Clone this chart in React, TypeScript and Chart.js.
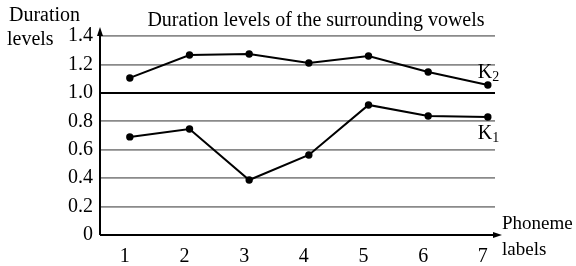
import React, { useEffect, useRef } from "react";
import { Chart, registerables } from "chart.js";

Chart.register(...registerables);

const phonemes = [1, 2, 3, 4, 5, 6, 7];
const k2Values = [1.105, 1.266, 1.273, 1.21, 1.259, 1.147, 1.055];
const k1Values = [0.69, 0.746, 0.387, 0.563, 0.915, 0.837, 0.83];
const yTicks = [0, 0.2, 0.4, 0.6, 0.8, 1.0, 1.2, 1.4];
const titleText = "Duration levels of the surrounding vowels";
const yTitleLines = ["Duration", "levels"];
const xTitleLines = ["Phoneme", "labels"];
const seriesNames = ["K", "K"];
const seriesSubs = ["2", "1"];

const FF = '"Liberation Serif", "Times New Roman", serif';

const decorPlugin = {
  id: "decor",
  afterDraw(chart: any) {
    const ctx = chart.ctx as CanvasRenderingContext2D;
    const xs = chart.scales.x;
    const ys = chart.scales.y;
    const left = xs.left;
    const bottom = ys.bottom;
    const top = ys.top;
    ctx.save();
    // axes
    ctx.strokeStyle = "#000";
    ctx.fillStyle = "#000";
    ctx.lineWidth = 2;
    const xEnd = xs.right + 7;
    const yEnd = top - 9;
    ctx.beginPath();
    ctx.moveTo(left, bottom);
    ctx.lineTo(xEnd - 6, bottom);
    ctx.moveTo(left, bottom);
    ctx.lineTo(left, yEnd + 6);
    ctx.stroke();
    ctx.beginPath();
    ctx.moveTo(xEnd, bottom);
    ctx.lineTo(xEnd - 9, bottom - 3);
    ctx.lineTo(xEnd - 9, bottom + 3);
    ctx.closePath();
    ctx.fill();
    ctx.beginPath();
    ctx.moveTo(left, yEnd);
    ctx.lineTo(left - 3, yEnd + 9);
    ctx.lineTo(left + 3, yEnd + 9);
    ctx.closePath();
    ctx.fill();

    // texts
    ctx.font = `20px ${FF}`;
    ctx.textBaseline = "alphabetic";
    ctx.textAlign = "center";
    ctx.fillText(titleText, 316, 26);
    ctx.textAlign = "left";
    ctx.fillText(yTitleLines[0], 9, 21);
    ctx.fillText(yTitleLines[1], 7, 45);
    ctx.font = `19px ${FF}`;
    ctx.fillText(xTitleLines[0], 502, 229);
    ctx.fillText(xTitleLines[1], 502, 255);

    // series labels
    const meta2 = chart.getDatasetMeta(0).data;
    const meta1 = chart.getDatasetMeta(1).data;
    const p2 = meta2[meta2.length - 1];
    const p1 = meta1[meta1.length - 1];
    const drawK = (x: number, y: number, main: string, sub: string) => {
      ctx.font = `20px ${FF}`;
      ctx.fillText(main, x, y);
      const w = ctx.measureText(main).width;
      ctx.font = `14px ${FF}`;
      ctx.fillText(sub, x + w, y + 3);
    };
    drawK(p2.x - 10, p2.y - 7, seriesNames[0], seriesSubs[0]);
    drawK(p1.x - 10, p1.y + 22, seriesNames[1], seriesSubs[1]);
    ctx.restore();
  },
};

export default function App() {
  const ref = useRef<HTMLCanvasElement | null>(null);
  useEffect(() => {
    document.body.style.margin = "0";
    const canvas = ref.current!;
    const chart = new Chart(canvas, {
      type: "line",
      data: {
        datasets: [
          {
            label: "K2",
            data: phonemes.map((p, i) => ({ x: p, y: k2Values[i] })),
            borderColor: "#000",
            backgroundColor: "#000",
            borderWidth: 2,
            pointRadius: 3.7,
            pointBackgroundColor: "#000",
            pointBorderWidth: 0,
            tension: 0,
            clip: false as any,
          },
          {
            label: "K1",
            data: phonemes.map((p, i) => ({ x: p, y: k1Values[i] })),
            borderColor: "#000",
            backgroundColor: "#000",
            borderWidth: 2,
            pointRadius: 3.7,
            pointBackgroundColor: "#000",
            pointBorderWidth: 0,
            tension: 0,
            clip: false as any,
          },
        ],
      },
      options: {
        animation: false,
        responsive: false,
        devicePixelRatio: 1,
        layout: { padding: { left: 0, top: 36, right: 81, bottom: 0 } },
        plugins: {
          legend: { display: false },
          tooltip: { enabled: false },
          title: { display: false },
        },
        scales: {
          x: {
            type: "linear",
            min: 0.5,
            max: 7.12,
            afterBuildTicks: (s: any) => {
              s.ticks = phonemes.map((v) => ({ value: v }));
            },
            afterFit: (s: any) => {
              s.height = 31;
            },
            grid: { display: false, drawTicks: false },
            border: { display: false },
            ticks: {
              color: "#000",
              font: { family: FF, size: 20 },
              padding: 10,
              align: "end",
              maxRotation: 0,
              autoSkip: false,
              callback: (v: any) => String(v),
            },
          },
          y: {
            min: 0,
            max: 1.4,
            afterBuildTicks: (s: any) => {
              s.ticks = yTicks.map((v) => ({ value: v }));
            },
            afterFit: (s: any) => {
              s.width = 100;
            },
            grid: {
              drawTicks: false,
              color: (c: any) =>
                Math.abs(c.tick.value - 1) < 1e-6
                  ? "#000"
                  : c.tick.value === 0
                  ? "rgba(0,0,0,0)"
                  : "#8a8a8a",
              lineWidth: (c: any) =>
                Math.abs(c.tick.value - 1) < 1e-6 ? 2 : 1.7,
            },
            border: { display: false },
            ticks: {
              color: "#000",
              font: { family: FF, size: 20 },
              padding: 7,
              callback: (v: any) => (v === 0 ? "0" : Number(v).toFixed(1)),
            },
          },
        },
      },
      plugins: [decorPlugin],
    });
    return () => chart.destroy();
  }, []);
  return (
    <div style={{ width: 576, height: 266 }}>
      <canvas ref={ref} width={576} height={266} style={{ width: 576, height: 266, display: "block" }} />
    </div>
  );
}
